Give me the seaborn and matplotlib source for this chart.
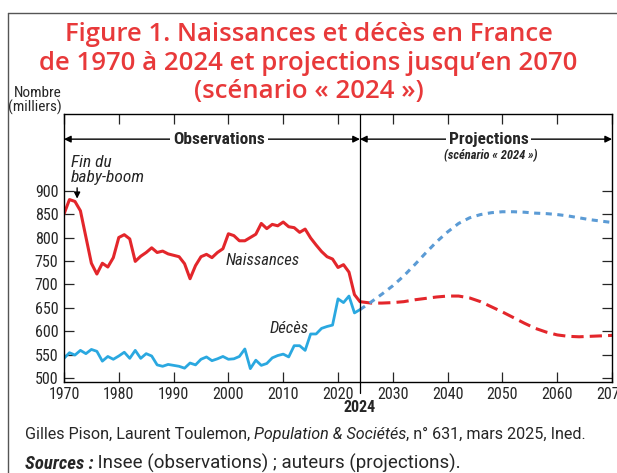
import matplotlib
matplotlib.use("Agg")
import matplotlib.pyplot as plt
from matplotlib.text import Annotation
import pandas as pd
import seaborn as sns

# --- Data (thousands) ---
obs_years = list(range(1970, 2025))
births_obs = [850, 881, 877, 857, 801, 745, 722, 745, 737, 757,
              800, 806, 797, 749, 760, 768, 778, 768, 771, 765,
              762, 759, 744, 712, 740, 759, 764, 757, 768, 776,
              808, 804, 793, 793, 800, 807, 830, 819, 828, 825,
              833, 823, 821, 811, 818, 799, 784, 770, 759, 754,
              736, 742, 726, 678, 663]
deaths_obs = [542, 554, 549, 559, 552, 561, 557, 536, 546, 540,
              547, 555, 542, 559, 542, 552, 547, 528, 525, 529,
              527, 525, 521, 532, 528, 540, 545, 537, 541, 546,
              540, 541, 546, 562, 520, 538, 527, 531, 543, 548,
              551, 545, 569, 569, 559, 594, 594, 606, 610, 613,
              669, 661, 675, 639, 646]

proj_years = list(range(2024, 2071, 2))
births_proj = [663, 660, 660, 661, 663, 667, 670, 673, 675, 675, 671, 663,
               652, 641, 629, 617, 606, 598, 592, 589, 588, 589, 590, 591]
deaths_proj = [646, 662, 679, 697, 718, 742, 767, 791, 812, 830, 842, 849,
               853, 855, 855, 854, 852, 851, 849, 846, 842, 838, 835, 832]

yticks = [500, 550, 600, 650, 700, 750, 800, 850, 900]
xticks = list(range(1970, 2071, 10))

obs = pd.DataFrame({"year": obs_years, "births": births_obs, "deaths": deaths_obs})
proj = pd.DataFrame({"year": proj_years, "births": births_proj, "deaths": deaths_proj})

RED = "#e3262b"
BLUE = "#2aa8e0"
BLUE_P = "#5b9bd5"
TITLE_RED = "#e8393a"

sns.set_style("ticks")
plt.rcParams["font.family"] = ["Roboto Condensed", "Liberation Sans Narrow", "Roboto", "DejaVu Sans"]

fig = plt.figure(figsize=(6.17, 4.73), dpi=100)
ax = fig.add_axes([0.1037, 0.1934, 0.8883, 0.5646])

sns.lineplot(data=obs, x="year", y="births", ax=ax, color=RED, lw=2.2)
sns.lineplot(data=obs, x="year", y="deaths", ax=ax, color=BLUE, lw=2.0)
sns.lineplot(data=proj, x="year", y="births", ax=ax, color=RED, lw=2.2,
             linestyle=(0, (4, 2)))
sns.lineplot(data=proj, x="year", y="deaths", ax=ax, color=BLUE_P, lw=2.2,
             linestyle=(0, (2, 1.8)))

ax.set_xlim(1970, 2070)
ax.set_ylim(492.5, 1062.7)
ax.set_xticks(xticks)
ax.set_yticks(yticks)
ax.set_xlabel("")
ax.set_ylabel("")
ax.tick_params(direction="in", top=True, right=True, labelsize=11.5, length=7, width=0.9, pad=4)
for s in ax.spines.values():
    s.set_linewidth(1.0)
    s.set_color("black")

# separation 2024
ax.axvline(2024, ymin=-0.042, ymax=1, color="black", lw=0.9, clip_on=False)
ax.text(2024, -0.068, "2024", transform=ax.get_xaxis_transform(), ha="center", va="top",
        fontsize=11.5, fontweight="bold")

# arrows Observations / Projections
arr_y = 1010
for x0, x1 in [(1970, 2024), (2024, 2070)]:
    ax.annotate("", xy=(x0, arr_y), xytext=(x1, arr_y),
                arrowprops=dict(arrowstyle="<|-|>", color="black", lw=1.0, shrinkA=0, shrinkB=0,
                                mutation_scale=10))
ax.text(1998.3, arr_y, "Observations", ha="center", va="center", fontsize=12.5, fontweight="bold",
        bbox=dict(facecolor="white", edgecolor="none", pad=2))
ax.text(2047.5, arr_y, "Projections", ha="center", va="center", fontsize=12.5, fontweight="bold",
        bbox=dict(facecolor="white", edgecolor="none", pad=2))
ax.text(2047.8, 976, "(scénario « 2024 »)", ha="center", va="center", fontsize=9,
        fontstyle="italic", fontweight="bold")

# annotations
ax.text(1971.3, 944, "Fin du\nbaby-boom", ha="left", va="center", fontsize=12.5,
        fontstyle="italic", linespacing=0.95)
ax.annotate("", xy=(1972.4, 883), xytext=(1972.4, 906),
            arrowprops=dict(arrowstyle="-|>", color="black", lw=1.0, shrinkA=0, shrinkB=0,
                            mutation_scale=9))
ax.text(2006.3, 751, "Naissances", ha="center", va="center", fontsize=12, fontstyle="italic")
ax.text(2011, 606, "Décès", ha="center", va="center", fontsize=12, fontstyle="italic")

fig.text(0.1005, 0.757, "Nombre\n(milliers)", ha="right", va="bottom", fontsize=11,
         linespacing=0.95)

# title
TITLE = dict(ha="center", va="baseline", color=TITLE_RED, fontsize=18.5, fontweight="semibold",
             family=["Open Sans", "DejaVu Sans"])
fig.text(0.5, 1 - 41 / 473, "Figure 1. Naissances et décès en France", **TITLE)
fig.text(0.5, 1 - 70.5 / 473, "de 1970 à 2024 et projections jusqu’en 2070", **TITLE)
fig.text(0.5, 1 - 98.5 / 473, "(scénario « 2024 »)", **TITLE)

# footer
FOOT = dict(fontsize=11.6, family=["Roboto", "DejaVu Sans"])
t1 = fig.text(0.04, 1 - 438.5 / 473, "Gilles Pison, Laurent Toulemon, ", va="baseline", **FOOT)
a2 = fig.add_artist(Annotation("Population & Sociétés", xy=(1, 0), xycoords=t1, va="bottom",
                               fontstyle="italic", **FOOT))
fig.add_artist(Annotation(", n° 631, mars 2025, Ined.", xy=(1, 0), xycoords=a2, va="bottom", **FOOT))
s1 = fig.text(0.04, 1 - 469 / 473, "Sources :", fontweight="bold", fontstyle="italic",
              va="baseline", fontsize=13.5)
fig.add_artist(Annotation(" Insee (observations) ; auteurs (projections).",
                          xy=(1, 0), xycoords=s1, va="bottom", fontsize=13.5,
                          family=["Roboto", "DejaVu Sans"]))

# frame
fig.add_artist(plt.Line2D([8 / 617, 1], [1 - 13 / 473] * 2, transform=fig.transFigure,
                          color="#555555", lw=1.0))
fig.add_artist(plt.Line2D([8 / 617] * 2, [0, 1 - 13 / 473], transform=fig.transFigure,
                          color="#555555", lw=1.0))

fig.savefig("out.png", dpi=100)
